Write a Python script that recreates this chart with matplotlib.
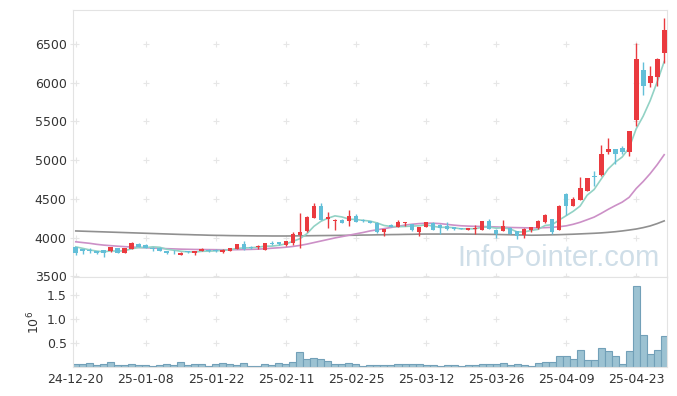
import matplotlib
matplotlib.use('Agg')
import matplotlib.pyplot as plt
import numpy as np

# daily candles, 85 trading days (24-12-20 .. 25-04-29)
opens = [3875, 3850, 3840, 3825, 3840, 3825, 3860, 3805, 3855, 3910,
         3900, 3870, 3870, 3825, 3830, 3780, 3820, 3800, 3828, 3840,
         3840, 3810, 3832, 3853, 3910, 3880, 3875, 3845, 3925, 3940,
         3901, 3931, 4039, 4082, 4258, 4405, 4240, 4211, 4233, 4211,
         4275, 4230, 4211, 4189, 4068, 4165, 4137, 4182, 4174, 4068,
         4135, 4189, 4165, 4150, 4135, 4120, 4100, 4113, 4103, 4211,
         4103, 4082, 4125, 4082, 4030, 4103, 4125, 4198, 4241, 4103,
         4564, 4413, 4491, 4607, 4795, 4805, 5103, 5146, 5159, 5103,
         5516, 6171, 5998, 6076, 6386]
highs = [3880, 3855, 3860, 3830, 3845, 3880, 3865, 3865, 3945, 3935,
         3920, 3875, 3875, 3830, 3840, 3810, 3830, 3825, 3860, 3850,
         3850, 3850, 3870, 3915, 3953, 3890, 3905, 3935, 3950, 3945,
         3960, 4070, 4320, 4280, 4440, 4448, 4330, 4240, 4240, 4362,
         4300, 4240, 4215, 4195, 4115, 4170, 4230, 4206, 4178, 4140,
         4205, 4195, 4170, 4195, 4140, 4125, 4125, 4160, 4215, 4240,
         4108, 4232, 4130, 4085, 4120, 4140, 4225, 4300, 4245, 4420,
         4570, 4530, 4784, 4775, 4857, 5202, 5288, 5150, 5180, 5380,
         6515, 6265, 6214, 6315, 6838]
lows = [3770, 3790, 3805, 3790, 3745, 3815, 3800, 3800, 3850, 3875,
        3865, 3830, 3825, 3785, 3790, 3770, 3800, 3775, 3820, 3815,
        3815, 3805, 3825, 3850, 3845, 3855, 3850, 3840, 3900, 3905,
        3895, 3900, 3866, 4075, 4250, 4230, 4120, 4103, 4185, 4146,
        4195, 4195, 4185, 4060, 4017, 4130, 4135, 4150, 4090, 4025,
        4130, 4100, 4048, 4100, 4100, 4110, 4095, 4050, 4100, 4110,
        4000, 4078, 4040, 3987, 4000, 4075, 4110, 4190, 4050, 4100,
        4297, 4410, 4485, 4600, 4663, 4800, 5073, 4956, 5080, 5051,
        5439, 5848, 5947, 5964, 6257]
closes = [3805, 3825, 3830, 3805, 3805, 3875, 3805, 3860, 3935, 3880,
          3870, 3855, 3830, 3805, 3820, 3805, 3815, 3820, 3850, 3830,
          3825, 3845, 3866, 3910, 3853, 3866, 3880, 3931, 3915, 3910,
          3953, 4047, 4073, 4260, 4413, 4232, 4260, 4233, 4190, 4275,
          4200, 4210, 4190, 4070, 4111, 4135, 4195, 4204, 4094, 4133,
          4198, 4103, 4125, 4105, 4105, 4115, 4120, 4117, 4211, 4116,
          4040, 4146, 4047, 4017, 4112, 4133, 4219, 4297, 4069, 4413,
          4413, 4499, 4641, 4771, 4780, 5085, 5146, 5085, 5103, 5374,
          6313, 5964, 6093, 6309, 6688]
volume = [55000, 55000, 76000, 42000, 62000, 97000, 35000, 35000, 55000, 42000,
          35000, 14000, 35000, 55000, 42000, 97000, 42000, 55000, 55000, 14000,
          55000, 76000, 55000, 42000, 76000, 14000, 14000, 55000, 42000, 76000,
          55000, 104000, 305000, 160000, 180000, 160000, 118000, 55000, 55000, 76000,
          55000, 14000, 35000, 35000, 35000, 35000, 55000, 55000, 55000, 55000,
          35000, 35000, 14000, 35000, 35000, 14000, 35000, 35000, 55000, 55000,
          55000, 76000, 35000, 55000, 35000, 14000, 76000, 104000, 104000, 222000,
          222000, 160000, 347000, 139000, 139000, 389000, 326000, 222000, 55000, 326000,
          1687000, 660000, 264000, 347000, 639000]

# moving averages as drawn
ma5 = [3880, 3860, 3840, 3825, 3815, 3828, 3824, 3830, 3856, 3871,
       3870, 3880, 3874, 3848, 3836, 3823, 3815, 3813, 3822, 3824,
       3828, 3834, 3843, 3859, 3866, 3868, 3875, 3888, 3889, 3900,
       3918, 3951, 3985, 4050, 4145, 4210, 4250, 4280, 4266, 4238,
       4232, 4222, 4213, 4189, 4156, 4143, 4140, 4143, 4148, 4152,
       4165, 4146, 4131, 4133, 4127, 4111, 4114, 4112, 4134, 4136,
       4121, 4126, 4112, 4073, 4072, 4091, 4106, 4156, 4166, 4226,
       4282, 4338, 4407, 4547, 4621, 4755, 4885, 4973, 5040, 5159,
       5404, 5568, 5769, 6011, 6273]
ma20 = [3945, 3935, 3925, 3912, 3902, 3895, 3888, 3882, 3877, 3872,
        3868, 3864, 3860, 3856, 3853, 3850, 3848, 3846, 3845, 3844,
        3843, 3842, 3842, 3843, 3845, 3847, 3850, 3855, 3862, 3868,
        3875, 3885, 3898, 3915, 3935, 3955, 3975, 3995, 4012, 4030,
        4048, 4065, 4085, 4100, 4115, 4130, 4145, 4160, 4172, 4180,
        4185, 4185, 4180, 4170, 4160, 4152, 4148, 4145, 4143, 4140,
        4137, 4134, 4130, 4128, 4126, 4125, 4125, 4128, 4132, 4140,
        4151, 4171, 4197, 4230, 4264, 4312, 4364, 4412, 4457, 4520,
        4633, 4724, 4826, 4941, 5070]
ma60 = [4085, 4082, 4079, 4076, 4073, 4070, 4067, 4064, 4061, 4058,
        4055, 4052, 4049, 4046, 4043, 4040, 4038, 4035, 4033, 4030,
        4028, 4027, 4025, 4024, 4023, 4022, 4021, 4021, 4020, 4020,
        4020, 4021, 4022, 4023, 4024, 4025, 4026, 4027, 4028, 4029,
        4030, 4032, 4033, 4035, 4036, 4038, 4039, 4041, 4042, 4044,
        4045, 4045, 4045, 4045, 4045, 4045, 4044, 4043, 4042, 4041,
        4040, 4038, 4036, 4034, 4032, 4030, 4031, 4033, 4035, 4037,
        4040, 4043, 4047, 4051, 4055, 4060, 4067, 4075, 4085, 4097,
        4110, 4128, 4150, 4180, 4215]

tick_labels = ['24-12-20', '25-01-08', '25-01-22', '25-02-11', '25-02-25',
               '25-03-12', '25-03-26', '25-04-09', '25-04-23']

red = '#ea3a3f'
blue = '#63bfd8'
light = '#e6e6e6'

fig = plt.figure(figsize=(6.77, 3.96), dpi=100)
ax = fig.add_axes([0.1078, 0.3005, 0.8774, 0.6742])
ax2 = fig.add_axes([0.1078, 0.0732, 0.8774, 0.2273], sharex=ax)

x = np.arange(len(opens))
o = np.array(opens)
c = np.array(closes)
col = np.where(c >= o, red, blue)

ax.plot(x, ma60, color='#909090', lw=1.2, zorder=2)
ax.plot(x, ma20, color='#cc90c7', lw=1.2, zorder=2)
ax.plot(x, ma5, color='#92d2c5', lw=1.2, zorder=2)
ax.vlines(x, lows, highs, colors=col, lw=1, zorder=3)
ax.bar(x, np.maximum(np.abs(c - o), 10), bottom=np.minimum(o, c), width=0.68,
       color=col, zorder=4)

ax2.bar(x, np.array(volume) / 1e6, width=1.0, color='#9cc2d2',
        edgecolor='#72a0b8', lw=0.8, zorder=2)

xt = np.arange(0, 81, 10)
ax.set_xlim(-0.4, 84.4)
ax.set_ylim(3490, 6940)
ax.set_yticks(np.arange(3500, 6501, 500))
ax2.set_ylim(0, 1.875)
ax2.set_yticks([0.5, 1.0, 1.5])
ax2.set_yticklabels(['0.5', '1.0', '1.5'])
ax2.set_xticks(xt)
ax2.set_xticklabels(tick_labels)
ax.tick_params(axis='x', labelbottom=False, length=0)
ax2.set_ylabel(r'$10^{6}$', fontsize=9, color='#333333', labelpad=3)

# faint cross marks at grid intersections
for a, yt in [(ax, ax.get_yticks()), (ax2, ax2.get_yticks())]:
    gx, gy = np.meshgrid(xt, yt)
    a.plot(gx.ravel(), gy.ravel(), '+', color=light, ms=4, mew=0.8, zorder=0)
    a.tick_params(axis='y', direction='inout', length=5, width=0.8, color=light,
                  labelsize=9, labelcolor='#333333', pad=2)
    for s in a.spines.values():
        s.set_color('#e3e3e3')
        s.set_linewidth(0.8)
ax2.tick_params(axis='x', length=0, labelsize=9, labelcolor='#333333', pad=4)

ax.text(0.988, 0.041, 'InfoPointer.com', transform=ax.transAxes, ha='right',
        va='baseline', fontsize=21, family='Liberation Sans', color='#cfdee8', zorder=1)

fig.savefig('out.png', dpi=100)
